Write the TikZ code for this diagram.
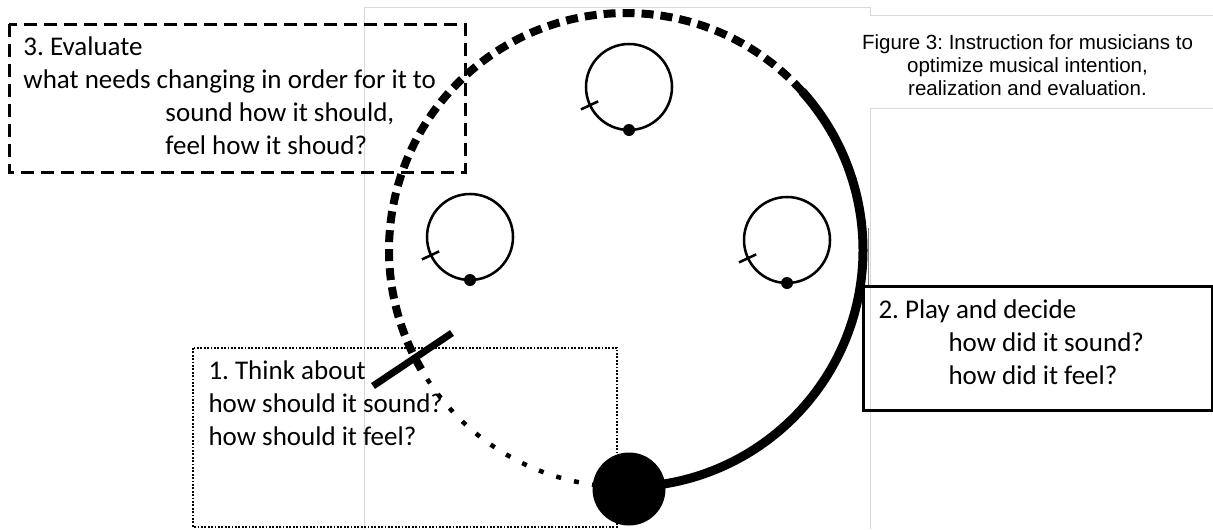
\documentclass[tikz,border=0pt]{standalone}
\usepackage{fontspec}
\setmainfont{Carlito}
\newfontfamily\captionfont{Liberation Sans}
\frenchspacing

\tikzset{every picture/.style={line width=0.75pt}}
\tikzset{boxtext/.style={anchor=base west, inner sep=0pt, align=left, font=\fontsize{20.25}{24.75}\selectfont}}
\definecolor{framegray}{RGB}{217,217,217}

\begin{document}
\begin{tikzpicture}[x=0.75pt,y=0.75pt,yscale=-1]
	\useasboundingbox (0,0) rectangle (1213,529);

	%Straight Lines (faint frame of the pasted picture)
	\draw [color=framegray]  (364,529) -- (364,7) -- (870,7) -- (870,15) -- (1213,15) ;
	\draw [color=framegray]  (870,529) -- (870,108) -- (1213,108) ;
	\draw [color={rgb, 255:red, 120; green, 120; blue, 120 }]  (868,228) -- (868,285) ;

	%Shape: Rectangle (step 3)
	\draw  [line width=2.25pt, dash pattern={on 9.75pt off 5.25pt}]  (9,24) rectangle (465,172) ;
	%Shape: Rectangle (step 1)
	\draw  [line width=1.5pt, dash pattern={on 1.35pt off 1.2pt}]  (193,348) rectangle (617,527) ;
	%Shape: Rectangle (step 2)
	\draw  [line width=2.25pt]  (863,286) rectangle (1212,410) ;

	%Shape: Arc - playing, solid
	\draw  [line width=6.75pt]  (626,250) ++(90:237) arc [start angle=90, end angle=-42, radius=237] ;
	%Shape: Arc - evaluating, dashed
	\draw  [line width=6pt, dash pattern={on 9pt off 5.25pt}]  (626,250) ++(-42:237) arc [start angle=-42, end angle=-211, radius=237] ;
	%Shape: Arc - thinking, dotted
	\draw  [line width=3.4pt, dash pattern={on 3.75pt off 10pt}]  (626,250) ++(-213:237) arc [start angle=-213, end angle=-266, radius=237] ;
	%Straight Lines
	\draw  [line width=5.25pt]  (373,386) -- (452,333) ;
	%Shape: Circle
	\fill  (629,489) circle (36.5) ;

	%Shape: Circle (top)
	\draw  [line width=1.9pt]  (629,87) circle (43) ;
	\fill  (629,87) ++(90:43) circle (6) ;
	\draw  [line width=1.9pt]  (629,87) ++(155:34) -- ++(155:19) ;
	%Shape: Circle (left)
	\draw  [line width=1.9pt]  (470,237) circle (43) ;
	\fill  (470,237) ++(90:43) circle (6) ;
	\draw  [line width=1.9pt]  (470,237) ++(155:34) -- ++(155:19) ;
	%Shape: Circle (right)
	\draw  [line width=1.9pt]  (787,240) circle (43) ;
	\fill  (787,240) ++(90:43) circle (6) ;
	\draw  [line width=1.9pt]  (787,240) ++(155:34) -- ++(155:19) ;

	% Text Node (anchored on the last line)
	\draw (23,154) node (evaluate) [boxtext] {3. Evaluate\\what needs changing in order for it to\\\hspace*{106.5pt}sound how it should,\\\hspace*{106.5pt}feel how it shoud?};
	% Text Node
	\draw (208,445) node (think) [boxtext] {1. Think about\\how should it sound?\\how should it feel?};
	% Text Node
	\draw (878,384) node (play) [boxtext] {2. Play and decide\\\hspace*{52.5pt}how did it sound?\\\hspace*{52.5pt}how did it feel?};
	% Text Node
	\draw (1027.5,95) node (caption) [anchor=base, align=center, inner sep=0pt, font=\captionfont\fontsize{15.4}{17.25}\selectfont] {Figure 3: Instruction for musicians to\\optimize musical intention,\\realization and evaluation.};

\end{tikzpicture}
\end{document}
